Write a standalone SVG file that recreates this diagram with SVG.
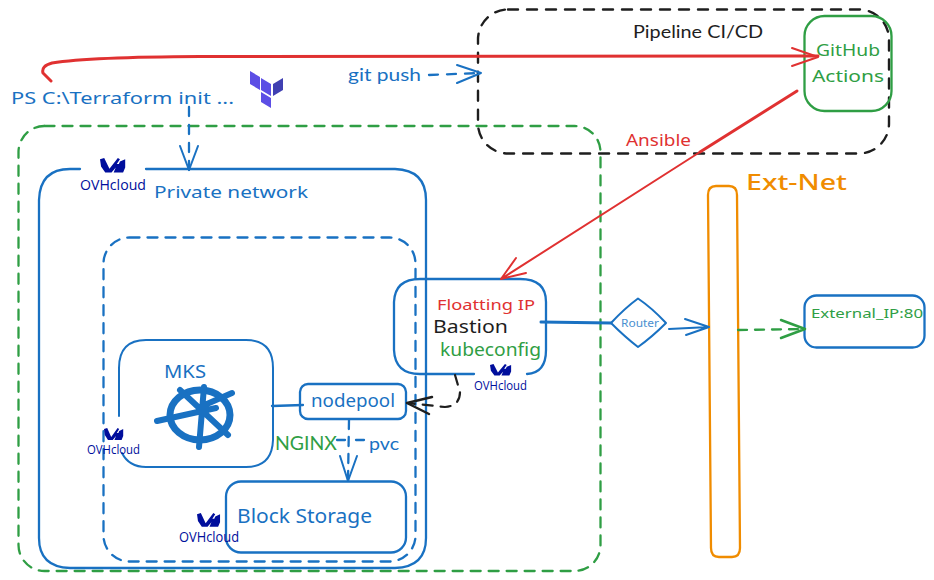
<svg xmlns="http://www.w3.org/2000/svg" width="934" height="580" viewBox="0 0 934 580">
<style>
.f{fill:none;stroke-linecap:round;stroke-linejoin:round}
.b{stroke:#1971c2}
.g{stroke:#2f9e44}
.r{stroke:#e03131}
.k{stroke:#1e1e1e}
.o{stroke:#f08c00}
.t{font-family:"Lato","Noto Sans",sans-serif}
.n{font-family:"Noto Sans",sans-serif}
.tb{fill:#1971c2}.tg{fill:#2f9e44}.tr{fill:#e03131}.tk{fill:#1e1e1e}.to{fill:#f08c00}
.ovh{font-family:"Open Sans",sans-serif;font-weight:400;fill:#000e9c}
</style>
<defs>
<g id="ovhlogo"><path fill="#000e9c" d="M0 1 L4 0 L9 9 L17 0 L19 1 L16 5 L18 5 L19 3 L24 1 L24 8 L22 12 L13 12 L15 8 L11 12 L5 12 L1 7 Z"/></g>
</defs>
<g id="zone-green"><rect class="f g" x="18.500" y="126" width="582" height="445" rx="26" stroke-width="2.300" stroke-dasharray="10 8"/></g>
<g id="pipeline"><rect class="f k" x="478" y="9.500" width="411" height="144" rx="30" stroke-width="2.400" stroke-dasharray="10 9"/><text class="t tk" x="633" y="38" font-size="18" textLength="130" lengthAdjust="spacingAndGlyphs">Pipeline CI/CD</text></g>
<g id="private-network"><path class="f b" stroke-width="2.300" d="M80 169 L70 169 Q40 169 39 200 L39 538 Q39 567 70 568 L395 568 Q426 567 426 538 L426 200 Q426 170 395 169 L146 169"/><text class="n tb" x="154" y="198" font-size="17" textLength="154" lengthAdjust="spacingAndGlyphs">Private network</text></g>
<g id="cluster"><rect class="f b" x="103.500" y="237.500" width="312" height="324" rx="26" stroke-width="2.300" stroke-dasharray="10 8"/></g>
<g id="mks"><path class="f b" stroke-width="2" d="M119 416 L119 368 Q119 340 146 340 L246 340 Q273 340 273 368 L273 440 Q272 467 246 467 L146 467 Q129 467 122 453"/><text class="n tb" x="164" y="378" font-size="18" textLength="42" lengthAdjust="spacingAndGlyphs">MKS</text>
<g class="f b" stroke-width="6"><ellipse cx="200" cy="415" rx="30" ry="25" stroke-width="7"/><path d="M157 421 L216 408M204 387 L199 447M180 390 L228 435M232 393 L200 407"/></g></g>
<g id="nodepool"><rect class="f b" x="300" y="384" width="106" height="35" rx="8" stroke-width="2.300"/><text class="n tb" x="311" y="407" font-size="18" textLength="84" lengthAdjust="spacingAndGlyphs">nodepool</text></g>
<g id="block-storage"><rect class="f b" x="226" y="481.500" width="180" height="71" rx="15" stroke-width="2.300"/><text class="n tb" x="237" y="523" font-size="20" textLength="135" lengthAdjust="spacingAndGlyphs">Block Storage</text></g>
<g id="bastion"><path class="f b" stroke-width="2.300" d="M474 374 L420 374 Q395 374 394 350 L394 302 Q395 279 420 279 L520 279 Q546 279 546 302 L546 350 Q546 373 527 374"/>
<text class="n tr" x="437" y="310" font-size="14" textLength="98" lengthAdjust="spacingAndGlyphs">Floatting IP</text><text class="n tk" x="433" y="333" font-size="18" textLength="75" lengthAdjust="spacingAndGlyphs">Bastion</text><text class="n tg" x="440" y="356" font-size="18" textLength="101" lengthAdjust="spacingAndGlyphs">kubeconfig</text></g>
<g id="router"><path class="f b" stroke-width="2" d="M611 323 Q625 308 638 298.500 Q652 308 666 323 Q652 337 638 347 Q625 337 611 323 Z"/><text class="n" fill="#4a90d0" x="621" y="327" font-size="10" textLength="38" lengthAdjust="spacingAndGlyphs">Router</text></g>
<g id="ext-net"><path class="f o" stroke-width="2.300" d="M708 195 Q708 186 716 186 L729 186 Q737 186 737 195 L740 548 Q740 557 732 557 L719 557 Q711 557 711 548 Z"/><text class="n to" x="746" y="190" font-size="21" font-weight="500" textLength="101" lengthAdjust="spacingAndGlyphs">Ext-Net</text></g>
<g id="external-ip"><rect class="f b" x="804.500" y="295.500" width="120" height="52" rx="12" stroke-width="2.300"/><text class="n tg" x="811" y="318" font-size="12" textLength="112" lengthAdjust="spacingAndGlyphs">External_IP:80</text></g>
<g id="github-actions"><rect class="f g" x="804.500" y="16" width="87" height="95" rx="20" stroke-width="2.300"/><text class="n tg" x="816" y="56" font-size="17" textLength="64" lengthAdjust="spacingAndGlyphs">GitHub</text><text class="n tg" x="812" y="82" font-size="17" textLength="72" lengthAdjust="spacingAndGlyphs">Actions</text></g>
<g id="terraform-cmd"><text class="n tb" x="11" y="104" font-size="17" textLength="223" lengthAdjust="spacingAndGlyphs">PS C:\Terraform init ...</text></g>
<g id="terraform-logo"><path fill="#5c4ee5" d="M250 71 L260 77 L260 90 L250 84 Z M261 78 L271 84 L271 96 L261 90 Z M261 92 L271 98 L271 108 L261 102 Z"/><path fill="#4040b2" d="M273 84 L283 78 L283 90 L273 96 Z"/></g>
<g id="logos">
<use href="#ovhlogo" transform="translate(100 158) scale(1.050 1.200)"/><text class="ovh" x="80" y="190" font-size="15" textLength="66" lengthAdjust="spacingAndGlyphs">OVHcloud</text>
<use href="#ovhlogo" transform="translate(104 428) scale(.8 1)"/><text class="ovh" x="87" y="454" font-size="13" textLength="53" lengthAdjust="spacingAndGlyphs">OVHcloud</text>
<use href="#ovhlogo" transform="translate(197 513) scale(.96 1.150)"/><text class="ovh" x="179" y="542" font-size="15" textLength="60" lengthAdjust="spacingAndGlyphs">OVHcloud</text>
<use href="#ovhlogo" transform="translate(490 364) scale(.88 .95)"/><text class="ovh" x="474" y="390" font-size="13" textLength="53" lengthAdjust="spacingAndGlyphs">OVHcloud</text>
</g>
<g id="connectors">
<path class="f r" stroke-width="3" d="M51 81 L43 73 Q41 66 52 63 Q90 57 200 56.500 L818 56"/><path class="f r" stroke-width="2" d="M792 48 L818 57 L792 66"/>
<path class="f r" stroke-width="3" d="M797 91 L700 152"/><path class="f r" stroke-width="2" d="M700 152 L501 279M516 258 L501 279 L526 273"/>
<text class="n tr" x="626" y="146" font-size="17" textLength="65" lengthAdjust="spacingAndGlyphs">Ansible</text>
<path class="f b" stroke-width="2.300" stroke-dasharray="9 9" d="M429 75 L481 73"/><path class="f b" stroke-width="2" d="M457 65 L481 73 L457 83"/>
<text class="t tb" x="348" y="81" font-size="18" textLength="73" lengthAdjust="spacingAndGlyphs">git push</text>
<path class="f b" stroke-width="2.300" stroke-dasharray="9 9" d="M189 107 L189 170"/><path class="f b" stroke-width="2" d="M180 146 L189 170 L198 146"/>
<path class="f b" stroke-width="3" d="M541 322 L611 323"/>
<path class="f b" stroke-width="2" d="M669 329 L709 327M685 319 L709 327 L686 335"/>
<path class="f g" stroke-width="2.300" stroke-dasharray="9 8" d="M738 330 L805 329"/><path class="f g" stroke-width="2.500" d="M781 320 L805 329 L781 338"/>
<path class="f k" stroke-width="2.200" stroke-dasharray="10 8" d="M455 375 L460 392 Q460 406 445 407 L407 403"/><path class="f k" stroke-width="2.500" d="M432 397 L407 403 L429 414"/>
<path class="f b" stroke-width="2.300" d="M272 406 L303 405"/>
<path class="f b" stroke-width="2.300" stroke-dasharray="9 8" d="M349 420 L348 481"/><path class="f b" stroke-width="2" d="M340 456 L348 481 L357 456"/>
<path class="f b" stroke-width="2.300" stroke-dasharray="8 11" d="M337 440 L365 440"/>
<text class="t tg" x="275" y="450" font-size="19" textLength="62" lengthAdjust="spacingAndGlyphs">NGINX</text>
<text class="t tb" x="369" y="450" font-size="18" textLength="30" lengthAdjust="spacingAndGlyphs">pvc</text>
</g>
</svg>
